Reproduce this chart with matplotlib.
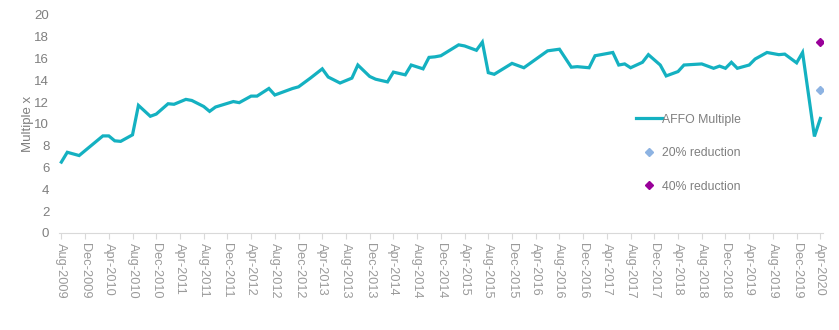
import matplotlib

matplotlib.use("Agg")
import matplotlib.pyplot as plt
import pandas as pd

plt.rcParams["font.family"] = ["Liberation Sans", "DejaVu Sans"]

# AFFO multiple, month-end readings (turning points of the series)
months = [
    "2009-08", "2009-09", "2009-11", "2010-03", "2010-04", "2010-05", "2010-06",
    "2010-08", "2010-09", "2010-11", "2010-12", "2011-02", "2011-03", "2011-05",
    "2011-06", "2011-08", "2011-09", "2011-10", "2012-01", "2012-02", "2012-04",
    "2012-05", "2012-07", "2012-08", "2012-11", "2012-12", "2013-02", "2013-04",
    "2013-05", "2013-07", "2013-09", "2013-10", "2013-12", "2014-01", "2014-03",
    "2014-04", "2014-06", "2014-07", "2014-09", "2014-10", "2014-11", "2014-12",
    "2015-03", "2015-04", "2015-06", "2015-07", "2015-08", "2015-09", "2015-12",
    "2016-02", "2016-06", "2016-08", "2016-10", "2016-11", "2017-01", "2017-02",
    "2017-03", "2017-05", "2017-06", "2017-07", "2017-08", "2017-10", "2017-11",
    "2018-01", "2018-02", "2018-04", "2018-05", "2018-08", "2018-10", "2018-11",
    "2018-12", "2019-01", "2019-02", "2019-04", "2019-05", "2019-07", "2019-09",
    "2019-10", "2019-12", "2020-01", "2020-03", "2020-04",
]
affo_multiple = [
    6.5, 7.4, 7.1, 8.9, 8.9, 8.45, 8.4,
    9.0, 11.7, 10.7, 10.9, 11.85, 11.8, 12.25,
    12.15, 11.6, 11.15, 11.55, 12.05, 11.95, 12.55,
    12.55, 13.25, 12.65, 13.25, 13.4, 14.2, 15.05,
    14.3, 13.75, 14.2, 15.4, 14.35, 14.1, 13.85,
    14.75, 14.5, 15.4, 15.05, 16.1, 16.15, 16.25,
    17.25, 17.15, 16.75, 17.5, 14.7, 14.55, 15.55,
    15.15, 16.7, 16.85, 15.2, 15.25, 15.15, 16.25,
    16.35, 16.55, 15.4, 15.5, 15.15, 15.65, 16.35,
    15.4, 14.4, 14.8, 15.4, 15.5, 15.1, 15.3,
    15.1, 15.65, 15.1, 15.4, 15.95, 16.55, 16.35,
    16.4, 15.6, 16.55, 8.85, 10.5,
]

# scenario multiples at the latest date
scenario_month = "2020-04"
reduction_20 = 13.15
reduction_40 = 17.5

start = pd.Period("2009-08", freq="M")
end = pd.Period("2020-04", freq="M")


def month_pos(m):
    return (pd.Period(m, freq="M") - start).n


x = [month_pos(m) for m in months]
xs = month_pos(scenario_month)

fig = plt.figure(figsize=(8.39, 3.30), dpi=100)
ax = fig.add_axes([0.0703, 0.294, 0.911, 0.661])

ax.plot(x, affo_multiple, color="#14b1c1", lw=2.3, label="AFFO Multiple",
        solid_joinstyle="miter")
ax.plot([xs], [reduction_20], ls="none", marker="D", ms=3.6,
        color="#8db3e2", label="20% reduction")
ax.plot([xs], [reduction_40], ls="none", marker="D", ms=3.6,
        color="#990099", label="40% reduction")

ax.set_ylim(0, 20)
ax.set_yticks(range(0, 21, 2))
ax.set_xlim(-0.4, (end - start).n + 0.5)

# tick every fourth month
tick_periods = pd.period_range(start, end, freq="M")[::4]
ax.set_xticks([(p - start).n for p in tick_periods])
ax.set_xticklabels([p.strftime("%b-%Y") for p in tick_periods], rotation=-90)

for side in ("top", "right", "left"):
    ax.spines[side].set_visible(False)
ax.spines["bottom"].set_color("#d9d9d9")
ax.tick_params(axis="y", length=0, labelsize=9.5, labelcolor="#7f7f7f", pad=7)
ax.tick_params(axis="x", length=4, color="#d9d9d9", labelsize=9.2,
               labelcolor="#9a9a9a", pad=3)

ax.set_ylabel("Multiple x", fontsize=9.5, color="#7f7f7f", labelpad=0)

ax.legend(loc="center left", bbox_to_anchor=(0.745, 0.536),
          bbox_transform=fig.transFigure, frameon=False, fontsize=8.8,
          labelcolor="#7f7f7f", handlelength=2.1, handletextpad=0.05,
          labelspacing=1.75)

fig.savefig("out.png", dpi=100)
